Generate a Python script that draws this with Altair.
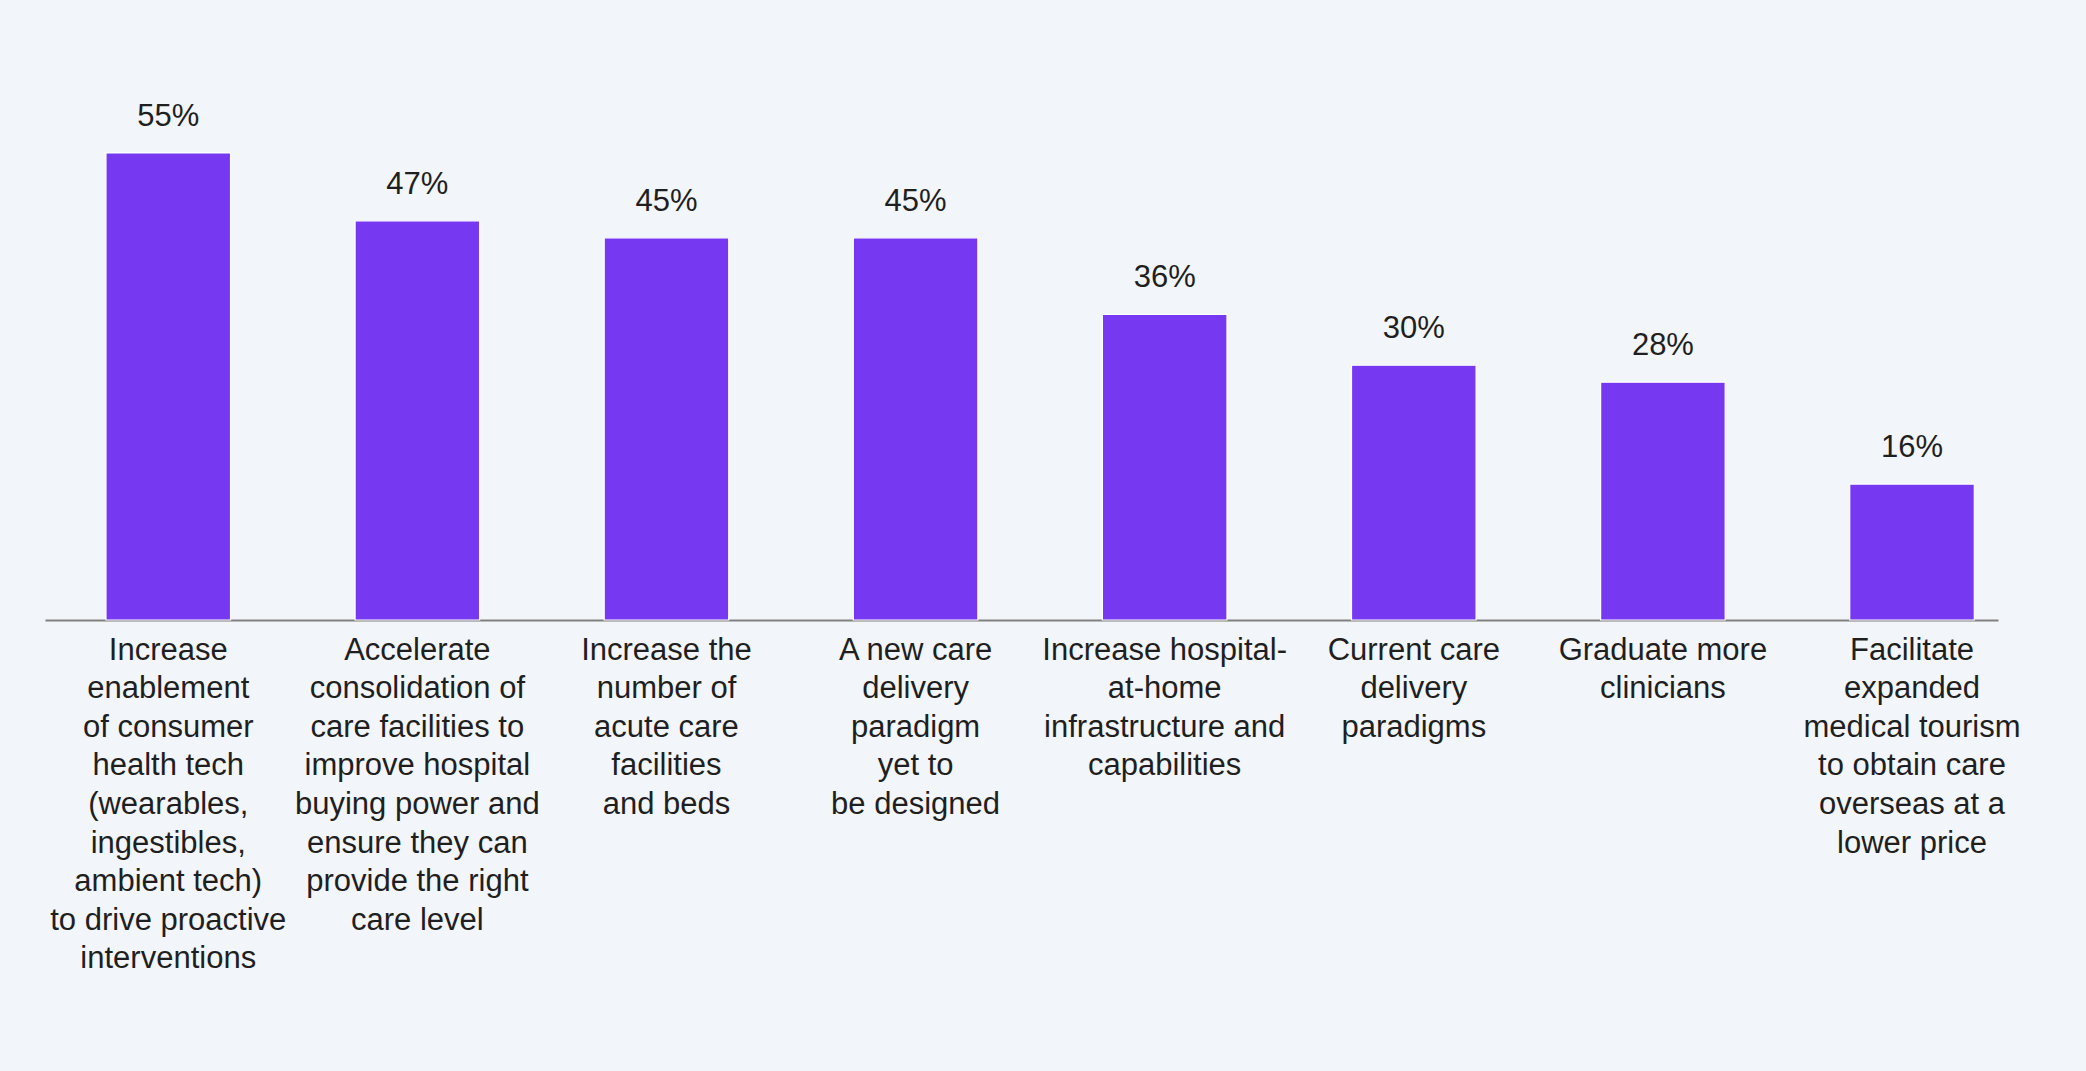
import altair as alt
import pandas as pd

categories = [
    "Increase|enablement|of consumer|health tech|(wearables,|ingestibles,|ambient tech)|to drive proactive|interventions",
    "Accelerate|consolidation of|care facilities to|improve hospital|buying power and|ensure they can|provide the right|care level",
    "Increase the|number of|acute care|facilities|and beds",
    "A new care|delivery|paradigm|yet to|be designed",
    "Increase hospital-|at-home|infrastructure and|capabilities",
    "Current care|delivery|paradigms",
    "Graduate more|clinicians",
    "Facilitate|expanded|medical tourism|to obtain care|overseas at a|lower price",
]
values = [55, 47, 45, 45, 36, 30, 28, 16]
value_labels = [f"{v}%" for v in values]

df = pd.DataFrame({"cat": categories, "value": values, "label": value_labels})

FONT = "Liberation Sans"
BG = "#F2F5F9"

x_enc = alt.X(
    "cat:N",
    sort=None,
    title=None,
    scale=alt.Scale(paddingInner=0.5, paddingOuter=0.17, align=0.72),
    axis=alt.Axis(
        labelExpr="split(datum.label, '|')",
        labelAngle=0,
        labelFont=FONT,
        labelFontSize=31,
        labelColor="#1f1f1f",
        labelLineHeight=38.6,
        labelPadding=15,
        labelBaseline="top",
        labelLimit=0,
        ticks=False,
        tickSize=0,
        domainColor="#808080",
        domainWidth=2,
        grid=False,
    ),
)
y_enc = alt.Y("value:Q", scale=alt.Scale(domain=[0, 65]), axis=None)

bars = alt.Chart(df).mark_bar(color="#7638F0", stroke="white", strokeWidth=1.2).encode(
    x=x_enc, y=y_enc
)
text = alt.Chart(df).mark_text(
    font=FONT, fontSize=31, color="#1f1f1f", baseline="alphabetic", dy=-27
).encode(x=alt.X("cat:N", sort=None), y="value:Q", text="label:N")

chart = (
    alt.layer(bars, text)
    .properties(
        width=1953,
        height=552,
        background=BG,
        padding={"left": 45, "top": 68, "right": 88, "bottom": 451},
        autosize=alt.AutoSizeParams(type="none"),
    )
    .configure_view(stroke=None)
)

chart.save("out.html", embed_options={"renderer": "svg", "actions": False})
